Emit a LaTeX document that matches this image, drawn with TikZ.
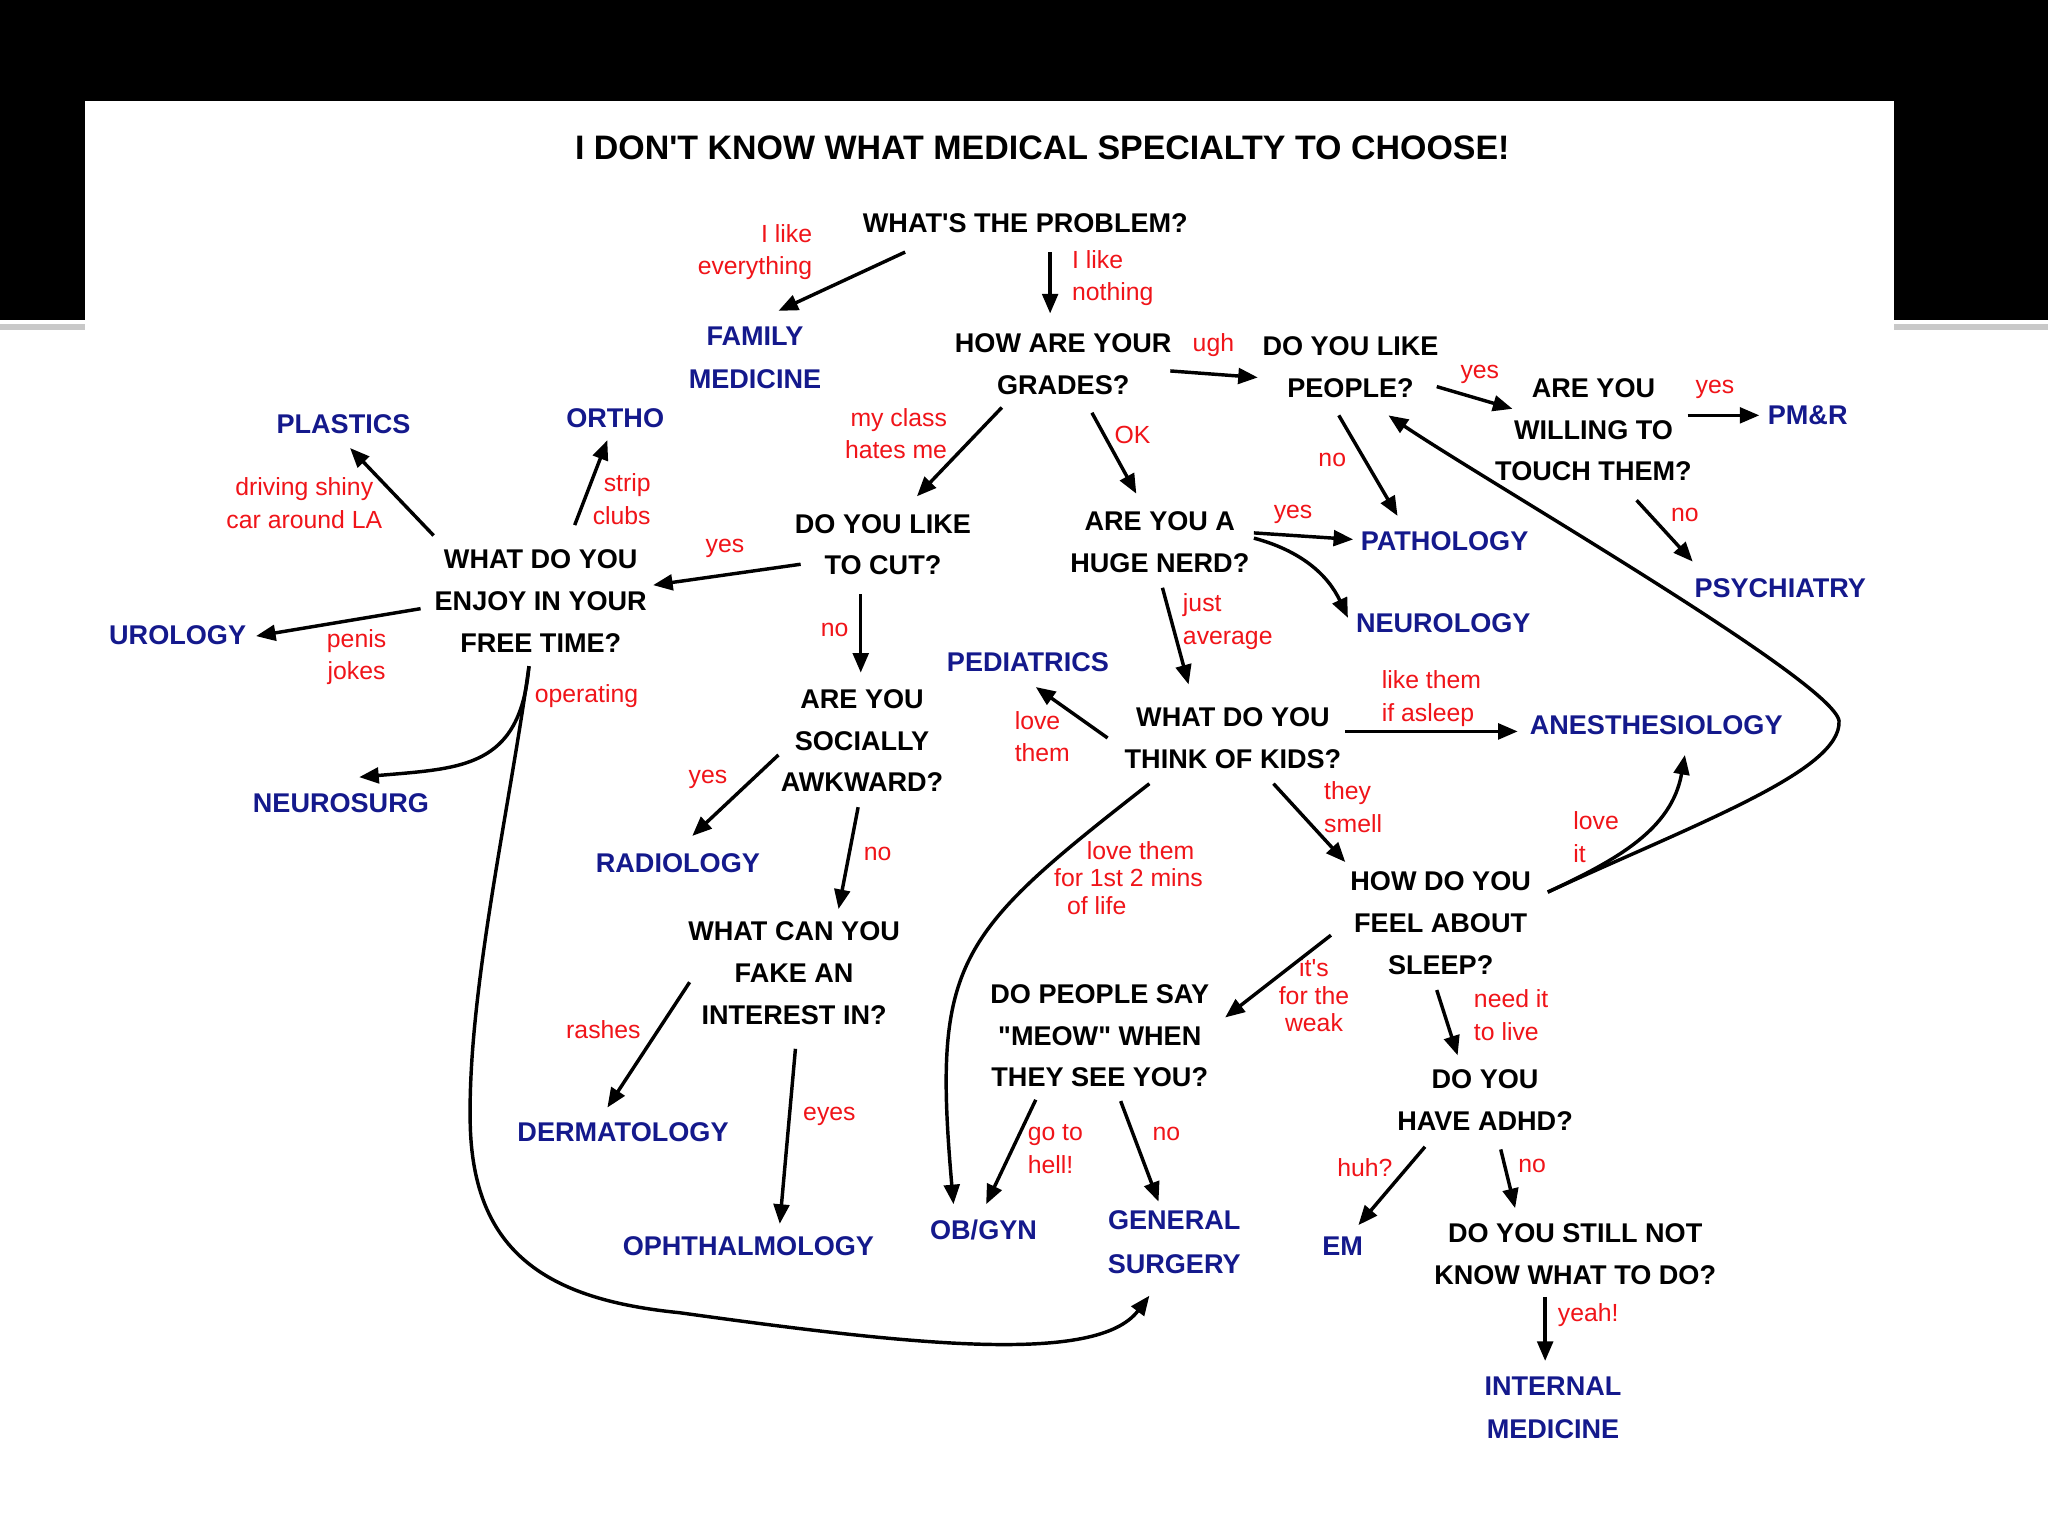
\documentclass[tikz,border=0pt]{standalone}
\usepackage{fontspec}
\setmainfont{Liberation Sans}[Ligatures=TeXOff]
\usepackage{xcolor}
\usepackage{tikz}
\usetikzlibrary{arrows.meta, calc}
\definecolor{specblue}{HTML}{14198C}
\definecolor{ansred}{HTML}{F01419}
\definecolor{rulegray}{HTML}{C8C8C8}

\begin{document}
\begin{tikzpicture}[x=0.02cm, y=0.02cm,
    ques/.style={font=\fontsize{11.8}{18.2}\selectfont\bfseries, align=center, inner sep=1pt},
    spec/.style={font=\fontsize{11.8}{18.8}\selectfont\bfseries, text=specblue, align=center, inner sep=1pt},
    ans/.style={font=\fontsize{10.8}{14.2}\selectfont, text=ansred, align=center, inner sep=1pt},
    anstight/.style={ans, font=\fontsize{10.8}{12}\selectfont},
    heading/.style={font=\fontsize{14.8}{18}\selectfont\bfseries, inner sep=1pt},
    arr/.style={-{Triangle[length=3mm, width=2.4mm]}, line width=1.5pt},
]
\useasboundingbox (0,0) rectangle (1568,-1176);

% Slide background
\fill[white] (0,-245) rectangle (1568,-1176);
\fill[black] (0,0) rectangle (1568,-245);
\fill[white] (65,-77) rectangle (1450,-1176);
\fill[rulegray] (0,-248) rectangle (65,-253);
\fill[rulegray] (1450,-248) rectangle (1568,-253);

\node[heading] (title) at (798,-113) {I DON'T KNOW WHAT MEDICAL SPECIALTY TO CHOOSE!};

% Questions
\node[ques] (prob)     at (785,-171)  {WHAT'S THE PROBLEM?};
\node[ques] (grades)   at (814,-279)  {HOW ARE YOUR\\GRADES?};
\node[ques] (people)   at (1034,-281) {DO YOU LIKE\\PEOPLE?};
\node[ques] (touch)    at (1220,-329) {ARE YOU\\WILLING TO\\TOUCH THEM?};
\node[ques] (cut)      at (676,-417)  {DO YOU LIKE\\TO CUT?};
\node[ques] (nerd)     at (888,-415)  {ARE YOU A\\HUGE NERD?};
\node[ques] (freetime) at (414,-460)  {WHAT DO YOU\\ENJOY IN YOUR\\FREE TIME?};
\node[ques] (awkward)  at (660,-567)  {ARE YOU\\SOCIALLY\\AWKWARD?};
\node[ques] (kids)     at (944,-565)  {WHAT DO YOU\\THINK OF KIDS?};
\node[ques] (fake)     at (608,-745)  {WHAT CAN YOU\\FAKE AN\\INTEREST IN?};
\node[ques] (sleep)    at (1103,-707) {HOW DO YOU\\FEEL ABOUT\\SLEEP?};
\node[ques] (meow)     at (842,-793)  {DO PEOPLE SAY\\"MEOW" WHEN\\THEY SEE YOU?};
\node[ques] (adhd)     at (1137,-842) {DO YOU\\HAVE ADHD?};
\node[ques] (still)    at (1206,-960) {DO YOU STILL NOT\\KNOW WHAT TO DO?};

% Specialties
\node[spec] (family)         at (578,-274)  {FAMILY\\MEDICINE};
\node[spec] (plastics)       at (263,-325)  {PLASTICS};
\node[spec] (ortho)          at (471,-320)  {ORTHO};
\node[spec] (pmr)            at (1384,-318) {PM\&R};
\node[spec] (pathology)      at (1106,-414) {PATHOLOGY};
\node[spec] (neurology)      at (1105,-477) {NEUROLOGY};
\node[spec] (psychiatry)     at (1363,-450) {PSYCHIATRY};
\node[spec] (urology)        at (136,-486)  {UROLOGY};
\node[spec] (pediatrics)     at (787,-507)  {PEDIATRICS};
\node[spec] (anesthesiology) at (1268,-555) {ANESTHESIOLOGY};
\node[spec] (neurosurg)      at (261,-615)  {NEUROSURG};
\node[spec] (radiology)      at (519,-661)  {RADIOLOGY};
\node[spec] (dermatology)    at (477,-867)  {DERMATOLOGY};
\node[spec] (ophthalmology)  at (573,-954)  {OPHTHALMOLOGY};
\node[spec] (obgyn)          at (753,-942)  {OB/GYN};
\node[spec] (gensurg)        at (899,-951)  {GENERAL\\SURGERY};
\node[spec] (em)             at (1028,-954) {EM};
\node[spec] (internal)       at (1189,-1078) {INTERNAL\\MEDICINE};

% Answers
\node[ans, align=right] (aEvery)   at (578,-193)  {I like\\everything};
\node[ans, align=left]  (aNothing) at (852,-213)  {I like\\nothing};
\node[ans]              (aUgh)     at (929,-264)  {ugh};
\node[ans]              (aPplYes)  at (1133,-287) {yes};
\node[ans]              (aTchYes)  at (1313,-298) {yes};
\node[ans]              (aPplNo)   at (1020,-352) {no};
\node[ans]              (aTchNo)   at (1290,-394) {no};
\node[ans, align=right] (aClass)   at (686,-332)  {my class\\hates me};
\node[ans]              (aOk)      at (867,-333)  {OK};
\node[ans]              (aShiny)   at (233,-385)  {driving shiny\\car around LA};
\node[ans, align=right] (aStrip)   at (476,-382)  {strip\\clubs};
\node[ans]              (aCutYes)  at (555,-420)  {yes};
\node[ans]              (aPenis)   at (273,-503)  {penis\\jokes};
\node[ans]              (aOperate) at (449,-533)  {operating};
\node[ans]              (aCutNo)   at (639,-482)  {no};
\node[ans]              (aNerdYes) at (990,-394)  {yes};
\node[ans, align=left]  (aJust)    at (940,-476)  {just\\average};
\node[ans, align=left]  (aLoveThm) at (798,-564)  {love\\them};
\node[ans, align=left]  (aAsleep)  at (1096,-535) {like them\\if asleep};
\node[ans, align=left]  (aSmell)   at (1036,-618) {they\\smell};
\node[ans, align=left]  (aLoveIt)  at (1222,-641) {love\\it};
\node[ans]              (aAwkYes)  at (542,-597)  {yes};
\node[ans]              (aAwkNo)   at (672,-654)  {no};
\node[anstight, align=left] (aMins) at (864,-672)
  {\hspace*{0.5cm}love them\\for 1st 2 mins\\\hspace*{0.2cm}of life};
\node[ans]              (aRashes)  at (462,-788)  {rashes};
\node[ans]              (aEyes)    at (635,-855)  {eyes};
\node[anstight]         (aWeak)    at (1006,-762) {it's\\for the\\weak};
\node[ans, align=left]  (aLive)    at (1157,-777) {need it\\to live};
\node[ans, align=left]  (aHell)    at (808,-880)  {go to\\hell!};
\node[ans]              (aMeowNo)  at (893,-868)  {no};
\node[ans]              (aHuh)     at (1045,-894) {huh?};
\node[ans]              (aAdhdNo)  at (1173,-893) {no};
\node[ans]              (aYeah)    at (1216,-1007) {yeah!};

% Connectors
\draw[arr] ($(prob)+(-92,-22)$) -- ($(family)+(18,36)$);
\draw[arr] ($(prob)+(19,-22)$) -- ($(grades)+(-10,39)$);
\draw[arr] ($(grades)+(82,-5)$) -- ($(people)+(-71,-8)$);
\draw[arr] ($(people)+(66,-15)$) -- ($(touch)+(-62,16)$);
\draw[arr] ($(touch)+(72,11)$) -- ($(pmr)+(-37,0)$);
\draw[arr] ($(people)+(-9,-37)$) -- ($(pathology)+(-36,19)$);
\draw[arr] ($(touch)+(33,-54)$) -- ($(psychiatry)+(-67,20)$);
\draw[arr] ($(grades)+(-47,-33)$) -- ($(cut)+(26,37)$);
\draw[arr] ($(grades)+(22,-37)$) -- ($(nerd)+(-18,37)$);
\draw[arr] ($(cut)+(-63,-15)$) -- ($(freetime)+(86,12)$);
\draw[arr] ($(nerd)+(72,7)$) -- ($(pathology)+(-70,1)$);
\draw[arr] ($(nerd)+(72,3)$) to[out=-15, in=115] ($(neurology)+(-73,4)$);
\draw[arr] ($(freetime)+(-82,50)$) -- ($(plastics)+(5,-18)$);
\draw[arr] ($(freetime)+(26,58)$) -- ($(ortho)+(-6,-17)$);
\draw[arr] ($(freetime)+(-92,-6)$) -- ($(urology)+(60,-1)$);
\draw[arr] ($(freetime)+(-9,-50)$) to[out=-95, in=5, looseness=1.3] ($(neurosurg)+(14,20)$);
\draw[arr] ($(freetime)+(-9,-50)$) .. controls (390,-620) and (358,-760) .. (360,-860)
  .. controls (362,-960) and (420,-995) .. (520,-1005)
  .. controls (700,-1030) and (840,-1045) .. ($(gensurg)+(-19,-41)$);
\draw[arr] ($(cut)+(-17,-38)$) -- ($(awkward)+(-1,52)$);
\draw[arr] ($(nerd)+(2,-35)$) -- ($(kids)+(-34,41)$);
\draw[arr] ($(awkward)+(-64,-11)$) -- ($(radiology)+(11,21)$);
\draw[arr] ($(awkward)+(-3,-51)$) -- ($(fake)+(34,49)$);
\draw[arr] ($(kids)+(-96,0)$) -- ($(pediatrics)+(6,-19)$);
\draw[arr] ($(kids)+(86,5)$) -- ($(anesthesiology)+(-106,-5)$);
\draw[arr] ($(kids)+(31,-35)$) -- ($(sleep)+(-73,47)$);
\draw[arr] ($(kids)+(-64,-35)$) to[out=218, in=95, looseness=1.35] ($(obgyn)+(-23,20)$);
\draw[arr] ($(fake)+(-80,-7)$) -- ($(dermatology)+(-12,19)$);
\draw[arr] ($(fake)+(1,-58)$) -- ($(ophthalmology)+(24,17)$);
\draw[arr] ($(sleep)+(-84,-9)$) -- ($(meow)+(96,14)$);
\draw[arr] ($(sleep)+(-3,-51)$) -- ($(adhd)+(-21,34)$);
\draw[arr] ($(sleep)+(82,24)$) to[out=25, in=-100] ($(anesthesiology)+(22,-23)$);
\draw[arr] ($(sleep)+(82,24)$) .. controls (1300,-630) and (1410,-590) .. (1408,-552)
  .. controls (1404,-522) and (1140,-370) .. ($(people)+(29,-37)$);
\draw[arr] ($(meow)+(-49,-49)$) -- ($(obgyn)+(2,20)$);
\draw[arr] ($(meow)+(16,-50)$) -- ($(gensurg)+(-12,31)$);
\draw[arr] ($(adhd)+(-46,-36)$) -- ($(em)+(12,16)$);
\draw[arr] ($(adhd)+(12,-38)$) -- ($(still)+(-46,35)$);
\draw[arr] ($(still)+(-23,-33)$) -- ($(internal)+(-6,36)$);

\end{tikzpicture}
\end{document}
